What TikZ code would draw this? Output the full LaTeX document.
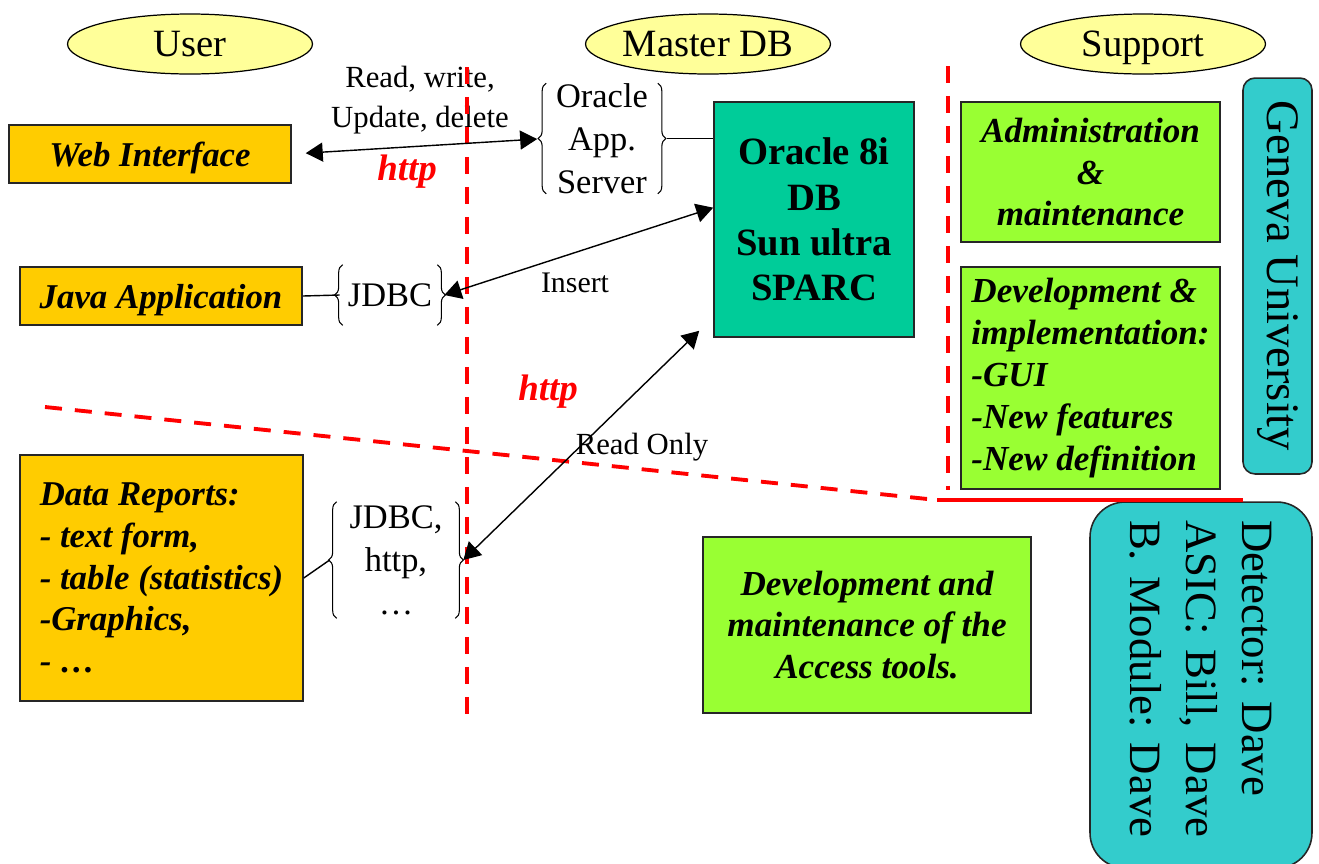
\documentclass[tikz,border=0pt]{standalone}
\usepackage{fontspec}
\setmainfont{Liberation Serif}
\usetikzlibrary{arrows.meta,calc,decorations.pathreplacing,shapes.geometric}

\definecolor{ovalyellow}{HTML}{FFFF99}
\definecolor{useramber}{HTML}{FFCC00}
\definecolor{dbteal}{HTML}{00CC99}
\definecolor{limegreen}{HTML}{99FF33}
\definecolor{unicyan}{HTML}{33CCCC}

\newcommand{\fsz}[2]{\fontsize{#1pt}{#2pt}\selectfont}

\begin{document}
\frenchspacing
\begin{tikzpicture}[x=0.02cm, y=-0.02cm,
    header/.style={ellipse, draw, line width=0.7pt, fill=ovalyellow, minimum width=4.9cm,
      minimum height=1.2cm, inner sep=0pt, text depth=0pt, font=\fsz{22}{26}},
    userbox/.style={draw=black!85, line width=0.9pt, fill=useramber, inner sep=0pt,
      font=\fsz{19.8}{23.8}\bfseries\itshape},
    dbbox/.style={draw=black!85, line width=0.9pt, fill=dbteal, align=center,
      minimum width=4cm, minimum height=4.7cm, font=\fsz{22}{25.8}\bfseries},
    suppbox/.style={draw=black!85, line width=0.9pt, fill=limegreen, align=center,
      minimum width=5.18cm, inner sep=0pt, font=\fsz{20}{23.8}\bfseries\itshape},
    unibox/.style={draw=black!85, line width=0.9pt, fill=unicyan, rotate=-90},
    brc/.style={inner sep=0pt, align=center, font=\fsz{19.6}{24.4}},
    bracedec/.style={decorate, decoration={brace, amplitude=0.16cm}, line width=0.6pt},
    lbl/.style={inner sep=0pt, font=\fsz{17.5}{22.7}},
    httplbl/.style={inner sep=0pt, text=red, font=\fsz{21}{25}\bfseries\itshape},
    sepline/.style={draw=red, line width=2.2pt, dash pattern=on 0.34cm off 0.26cm},
    thinline/.style={line width=0.8pt},
    dbl/.style={line width=0.8pt,
      {Triangle[length=0.34cm,width=0.38cm]}-{Triangle[length=0.34cm,width=0.38cm]}}]

  \useasboundingbox (0,0) rectangle (1319,863);

  % column headings
  \node[header] (user) at (190,44) {User};
  \node[header] (master) at (708,44) {Master DB};
  \node[header] (support) at (1143,44) {Support};

  % user side
  \node[userbox, text depth=0pt, minimum width=5.64cm, minimum height=1.16cm] (web) at (150,154) {Web Interface};
  \node[userbox, text depth=0pt, minimum width=5.64cm, minimum height=1.16cm] (java) at (161,296) {Java Application};
  \node[userbox, align=left, minimum width=5.66cm, minimum height=4.92cm] (reports) at (161.5,578)
    {Data Reports:\\- text form,\\- table (statistics)\\-Graphics,\\- …};

  % access layers
  \node[brc, minimum width=2.22cm, minimum height=2.14cm] (appsrv) at (602,138.5) {Oracle\\App.\\Server};
  \node[brc, minimum width=1.88cm, minimum height=1.2cm] (jdbc) at (390,295) {JDBC};
  \node[brc, minimum width=2.36cm, minimum height=2.32cm] (rbrace) at (396,560) {JDBC,\\http,\\…};
  \foreach \b in {appsrv,jdbc,rbrace} {
    \draw[bracedec] (\b.south west) -- (\b.north west);
    \draw[bracedec] (\b.north east) -- (\b.south east);
  }

  % master DB
  \node[dbbox] (oracle) at (814,219.5) {Oracle 8i\\DB\\Sun ultra\\SPARC};

  % support side
  \node[suppbox, minimum height=2.8cm] (admin) at (1090.5,172) {Administration\\\&\\maintenance};
  \node[suppbox, align=left, minimum height=4.44cm] (devimpl) at (1090.5,378)
    {Development \&\\implementation:\\-GUI\\-New features\\-New definition};
  \node[suppbox, minimum width=6.56cm, minimum height=3.52cm] (access) at (867,625)
    {Development and\\maintenance of the\\Access tools.};
  \node[unibox, rounded corners=0.24cm, minimum width=7.92cm, minimum height=1.38cm,
    font=\fsz{26.5}{31.8}] (geneva) at (1277.5,276) {Geneva University};
  \node[unibox, rounded corners=0.7cm, minimum width=7.32cm, minimum height=4.44cm,
    align=left, text width=6.6cm, inner xsep=0.36cm, font=\fsz{25.5}{31.8}] (people) at (1201,685)
    {Detector: Dave\\ASIC: Bill, Dave\\B. Module: Dave};

  % labels
  \node[lbl, align=center] (rwlabel) at (420,100) {Read, write,\\Update, delete};
  \node[httplbl] (http1) at (407,172) {http};
  \node[lbl, font=\fsz{17}{20}] (insert) at (575,283) {Insert};
  \node[httplbl] (http2) at (548,392) {http};
  \node[lbl] (readonly) at (642,447) {Read Only};

  % separators
  \draw[sepline] (467,67) -- (467,718);
  \draw[sepline] (948,66) -- (948,490);
  \draw[sepline] (45,407) -- (937,500);
  \draw[sepline, solid] (937,500) -- (1243,500);

  % connectors
  \draw[dbl, shorten <=0.28cm, shorten >=0.18cm] (web.east) -- (appsrv.west);
  \draw[thinline] ($(appsrv.east)+(9,0)$) -- (appsrv.east -| oracle.west);
  \draw[thinline] (java.east) -- ($(jdbc.west)+(-3,0)$);
  \draw[dbl] ($(jdbc.east)+(7,0)$) -- ($(oracle.north west)!0.45!(oracle.south west)$);
  \draw[thinline] (reports.east) -- ($(rbrace.west)+(-7,0)$);
  \draw[dbl] ($(rbrace.east)+(8,0)$) -- ($(oracle.south west)+(-14,-7)$);
\end{tikzpicture}
\end{document}
